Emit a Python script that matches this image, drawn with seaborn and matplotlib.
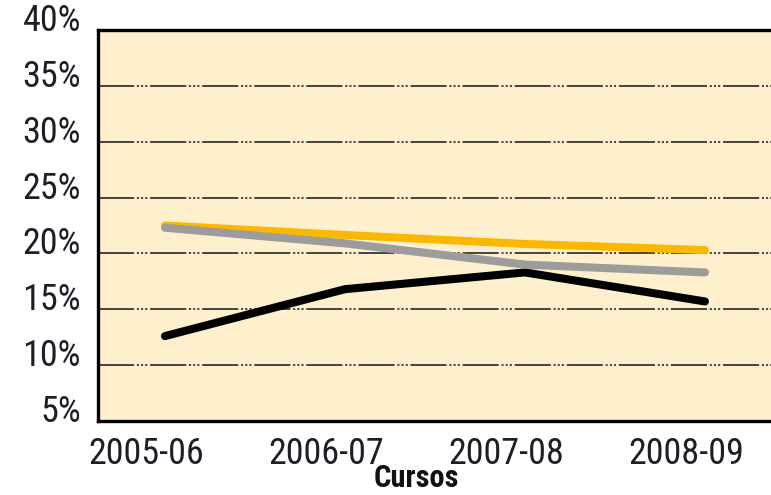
import matplotlib

matplotlib.use("Agg")
import matplotlib.pyplot as plt
import numpy as np
import pandas as pd
import seaborn as sns
from matplotlib import font_manager
from matplotlib.transforms import ScaledTranslation

cursos = ["2005-06", "2006-07", "2007-08", "2008-09"]
negro = [12.6, 16.8, 18.3, 15.7]
amarillo = [22.5, 21.65, 20.85, 20.3]
gris = [22.3, 20.9, 19.0, 18.3]
y_ticks = [5, 10, 15, 20, 25, 30, 35, 40]

series = {"negro": negro, "amarillo": amarillo, "gris": gris}
colores = {"negro": "#000000", "amarillo": "#FBB800", "gris": "#9C9C9C"}

frame = pd.concat(
    [
        pd.DataFrame({"pos": np.arange(len(cursos)), "valor": vals, "serie": name})
        for name, vals in series.items()
    ],
    ignore_index=True,
)


def pick_font():
    # narrowest available face, the reference uses a condensed grotesque
    fonts = font_manager.fontManager.ttflist
    names = {f.name for f in fonts}
    for name in ["Liberation Sans Narrow", "Roboto Condensed", "Open Sans Condensed", "DejaVu Sans Condensed"]:
        if name in names:
            return name, "normal", 26
    if any(f.name == "DejaVu Sans" and f.stretch == "condensed" for f in fonts):
        return "DejaVu Sans", "condensed", 22
    return "Roboto", "normal", 21


family, stretch, size = pick_font()

sns.set_theme(style="white")
plt.rcParams["font.family"] = [family, "DejaVu Sans"]
plt.rcParams["font.stretch"] = stretch
plt.rcParams["lines.scale_dashes"] = False

figure = plt.figure(figsize=(7.71, 4.95), dpi=100)
axis = figure.add_axes([0.1267, 0.1495, 0.8733, 0.7899])
axis.set_facecolor("#FFF0CD")

sns.lineplot(
    data=frame,
    x="pos",
    y="valor",
    hue="serie",
    hue_order=["negro", "amarillo", "gris"],
    palette=colores,
    linewidth=5.8,
    solid_capstyle="round",
    legend=False,
    sort=False,
    ax=axis,
)

axis.set_xlim(-0.374, 3.367)
axis.set_ylim(5, 40)
axis.set_yticks(y_ticks)
axis.set_yticklabels([f"{v}%" for v in y_ticks])
axis.set_xticks(np.arange(len(cursos)))
axis.set_xticklabels(cursos)
axis.tick_params(axis="both", length=0, labelsize=size, colors="#1E1E28")
axis.tick_params(axis="y", pad=12)
axis.tick_params(axis="x", pad=11)

axis.grid(
    axis="y",
    color="#262626",
    linewidth=1.2,
    linestyle=(0, (26, 2, 1.5, 1.5, 1.5, 1.5, 1.5, 2)),
)
axis.set_axisbelow(True)

for label in axis.get_yticklabels():
    label.set_transform(label.get_transform() + ScaledTranslation(0, 0.13, figure.dpi_scale_trans))
for label in axis.get_xticklabels():
    label.set_transform(label.get_transform() + ScaledTranslation(-0.19, 0, figure.dpi_scale_trans))

for side in ["left", "top", "bottom"]:
    axis.spines[side].set_color("black")
    axis.spines[side].set_linewidth(2.4)
axis.spines["right"].set_visible(False)

axis.set_xlabel("Cursos", fontsize=size - 4, fontweight="bold", color="#111111", va="top")
axis.xaxis.set_label_coords(0.474, -0.108)
axis.set_ylabel("")

figure.savefig("out.png", dpi=100)
plt.close(figure)
